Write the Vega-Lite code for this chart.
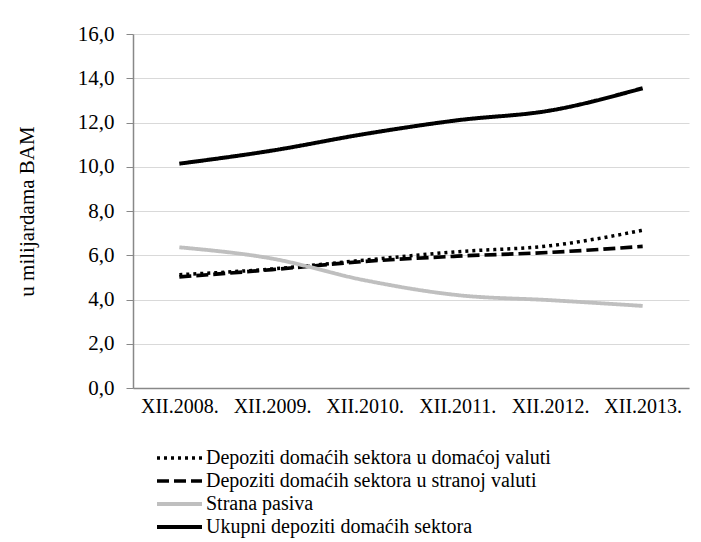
{
  "$schema": "https://vega.github.io/schema/vega-lite/v6.json",
  "width": 556,
  "height": 354,
  "autosize": {"type": "none"},
  "padding": {"left": 133, "top": 34, "right": 12, "bottom": 154},
  "background": "white",
  "config": {
    "font": "Liberation Serif",
    "view": {"stroke": null}
  },
  "data": {
    "values": [
      {"series": "Depoziti domaćih sektora u domaćoj valuti", "year": "XII.2008.", "value": 5.12},
      {"series": "Depoziti domaćih sektora u domaćoj valuti", "year": "XII.2009.", "value": 5.38},
      {"series": "Depoziti domaćih sektora u domaćoj valuti", "year": "XII.2010.", "value": 5.78},
      {"series": "Depoziti domaćih sektora u domaćoj valuti", "year": "XII.2011.", "value": 6.16},
      {"series": "Depoziti domaćih sektora u domaćoj valuti", "year": "XII.2012.", "value": 6.43},
      {"series": "Depoziti domaćih sektora u domaćoj valuti", "year": "XII.2013.", "value": 7.13},
      {"series": "Depoziti domaćih sektora u stranoj valuti", "year": "XII.2008.", "value": 5.02},
      {"series": "Depoziti domaćih sektora u stranoj valuti", "year": "XII.2009.", "value": 5.35},
      {"series": "Depoziti domaćih sektora u stranoj valuti", "year": "XII.2010.", "value": 5.72},
      {"series": "Depoziti domaćih sektora u stranoj valuti", "year": "XII.2011.", "value": 5.96},
      {"series": "Depoziti domaćih sektora u stranoj valuti", "year": "XII.2012.", "value": 6.13},
      {"series": "Depoziti domaćih sektora u stranoj valuti", "year": "XII.2013.", "value": 6.4},
      {"series": "Strana pasiva", "year": "XII.2008.", "value": 6.36},
      {"series": "Strana pasiva", "year": "XII.2009.", "value": 5.85},
      {"series": "Strana pasiva", "year": "XII.2010.", "value": 4.87},
      {"series": "Strana pasiva", "year": "XII.2011.", "value": 4.2},
      {"series": "Strana pasiva", "year": "XII.2012.", "value": 3.97},
      {"series": "Strana pasiva", "year": "XII.2013.", "value": 3.71},
      {"series": "Ukupni depoziti domaćih sektora", "year": "XII.2008.", "value": 10.14},
      {"series": "Ukupni depoziti domaćih sektora", "year": "XII.2009.", "value": 10.73},
      {"series": "Ukupni depoziti domaćih sektora", "year": "XII.2010.", "value": 11.48},
      {"series": "Ukupni depoziti domaćih sektora", "year": "XII.2011.", "value": 12.1},
      {"series": "Ukupni depoziti domaćih sektora", "year": "XII.2012.", "value": 12.54},
      {"series": "Ukupni depoziti domaćih sektora", "year": "XII.2013.", "value": 13.55}
    ]
  },
  "mark": {"type": "line", "interpolate": "monotone", "strokeCap": "butt"},
  "encoding": {
    "x": {
      "field": "year",
      "type": "ordinal",
      "scale": {"type": "point", "padding": 0.5},
      "axis": {
        "title": null,
        "labelAngle": 0,
        "ticks": false,
        "domainColor": "#888888",
        "domainWidth": 1.5,
        "labelFontSize": 20,
        "labelColor": "black",
        "labelPadding": 8
      }
    },
    "y": {
      "field": "value",
      "type": "quantitative",
      "scale": {"domain": [0, 16], "nice": false},
      "axis": {
        "title": "u milijardama  BAM",
        "titleFontSize": 21,
        "titleFontWeight": "normal",
        "titleColor": "black",
        "titlePadding": 40,
        "values": [0, 2, 4, 6, 8, 10, 12, 14, 16],
        "labelExpr": "replace(format(datum.value, '.1f'), '.', ',')",
        "labelFontSize": 21,
        "labelColor": "black",
        "labelPadding": 12,
        "tickSize": 7,
        "tickColor": "#888888",
        "domainColor": "#888888",
        "domainWidth": 1.5,
        "gridColor": "#d9d9d9",
        "gridWidth": 1.2
      }
    },
    "color": {
      "field": "series",
      "type": "nominal",
      "scale": {
        "domain": ["Depoziti domaćih sektora u domaćoj valuti", "Depoziti domaćih sektora u stranoj valuti", "Strana pasiva", "Ukupni depoziti domaćih sektora"],
        "range": ["black", "black", "#bfbfbf", "black"]
      },
      "legend": {
        "title": null,
        "orient": "none",
        "legendX": 22,
        "legendY": 412,
        "padding": 0,
        "symbolType": "M-1,0H3.5",
        "symbolSize": 400,
        "symbolStrokeWidth": 4,
        "labelFontSize": 20,
        "labelColor": "black",
        "labelOffset": 27,
        "rowPadding": 1,
        "labelLimit": 600
      }
    },
    "strokeDash": {
      "field": "series",
      "type": "nominal",
      "scale": {
        "domain": ["Depoziti domaćih sektora u domaćoj valuti", "Depoziti domaćih sektora u stranoj valuti", "Strana pasiva", "Ukupni depoziti domaćih sektora"],
        "range": [[3, 4], [12, 5], [1, 0], [1, 0]]
      },
      "legend": null
    },
    "strokeWidth": {
      "field": "series",
      "type": "nominal",
      "scale": {
        "domain": ["Depoziti domaćih sektora u domaćoj valuti", "Depoziti domaćih sektora u stranoj valuti", "Strana pasiva", "Ukupni depoziti domaćih sektora"],
        "range": [3.5, 4, 4, 4]
      },
      "legend": null
    }
  }
}
